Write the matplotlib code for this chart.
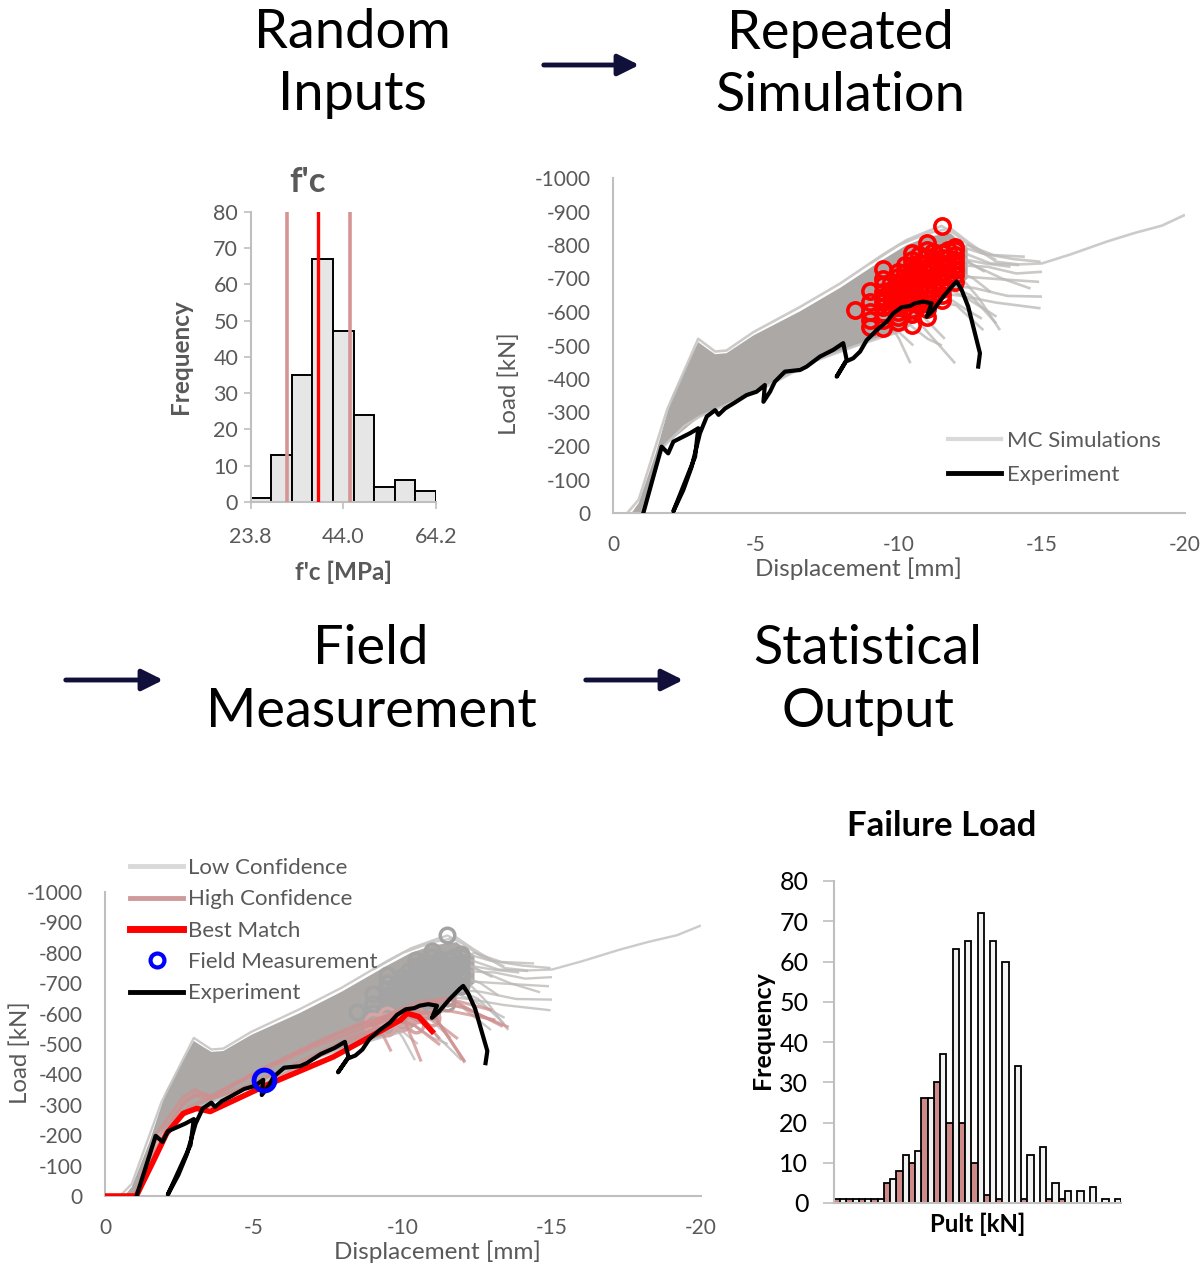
import numpy as np
import matplotlib.pyplot as plt
from matplotlib.lines import Line2D
from matplotlib.patches import FancyArrowPatch

plt.rcParams['font.family'] = ['Lato', 'DejaVu Sans']
plt.rcParams['axes.unicode_minus'] = False

W, H = 1203, 1266
TXT = '#595959'
SPINE = '#bfbfbf'
NAVY = '#10103a'

# --- f'c sampling histogram ---
fc_lo, fc_hi = 23.8, 64.2
fc_counts = [1, 13, 35, 67, 47, 24, 4, 6, 3]
fc_ticks = [23.8, 44.0, 64.2]
fc_mean = 38.55
fc_band = [31.7, 45.4]

# --- failure load histogram (all runs / high confidence runs) ---
pult_all = [1, 1, 1, 1, 6, 12, 13, 26, 37, 63, 65, 72, 65, 60, 34, 12, 14, 5, 3, 3, 4, 1, 1]
pult_high = [1, 1, 1, 1, 5, 8, 10, 26, 30, 20, 20, 10, 2, 1, 0, 1, 0, 1, 1, 0, 0, 0, 0]

# --- load-displacement data, magnitudes (compression plotted negative) ---
# dense body of the Monte Carlo runs
band_d = [0.0, 0.65, 0.9, 1.5, 2.07, 2.98, 3.3, 3.57, 3.97, 4.91, 6.54, 7.94, 9.45, 10.27, 11.03, 11.8, 12.4,
          12.4, 11.6, 10.8, 10.2, 9.45, 8.4, 7.0, 5.14, 3.04, 1.76, 1.06, 0.0]
band_p = [0, 0, 30, 180, 350, 510, 490, 474, 477, 530, 602, 672, 757, 800, 825, 835, 790,
          700, 640, 590, 545, 526, 496, 452, 367, 288, 198, 0, 0]

# individual runs: upper edge, long run, lower edge and post-peak tails
mc_disp = [
    [0.5, 0.9, 1.9, 2.98, 3.57, 3.97, 4.91, 6.54, 7.94, 9.45, 10.27, 11.03, 11.49, 12.0, 12.6, 13.4],
    [9.0, 10.0, 11.0, 11.8, 12.4, 13.4, 14.2, 15.0, 16.0, 17.26, 18.2, 19.2, 20.0],
    [1.0, 1.76, 2.5, 3.04, 5.14, 7.0, 8.4, 9.45, 10.0, 10.5],
    [11.0, 12.0, 12.9, 14.0, 14.95],
    [11.0, 12.0, 13.1, 14.1, 15.0],
    [10.5, 11.5, 12.4, 13.5, 14.9],
    [10.5, 11.5, 12.6, 13.8, 15.0],
    [10.0, 11.0, 12.2, 13.4, 14.95],
    [10.0, 11.0, 12.0, 12.95],
    [10.5, 11.5, 12.5, 13.4],
    [11.0, 12.0, 12.8, 13.53],
    [10.5, 11.5, 12.4, 13.41],
    [9.5, 10.2, 11.0, 11.96],
    [8.9, 9.6, 10.0, 10.4],
    [10.0, 11.0, 11.8, 12.6, 13.2],
    [11.5, 12.3, 13.2, 14.2],
    [9.8, 10.4, 11.0, 11.5],
    [9.3, 10.3, 11.3, 12.2, 13.0],
    [11.5, 12.4, 13.3, 14.4],
    [9.0, 9.9, 10.8, 11.6],
    [10.9, 11.8, 12.6, 13.6, 14.6],
    [9.6, 10.6, 11.4, 12.3, 12.9],
    [11.2, 12.1, 13.0, 13.9],
]
mc_load = [
    [0, 40, 310, 520, 482, 485, 540, 615, 685, 772, 815, 842, 857, 830, 790, 755],
    [745, 800, 835, 850, 810, 750, 742, 745, 772, 810, 835, 858, 890],
    [0, 198, 260, 288, 367, 452, 496, 526, 540, 500],
    [780, 800, 775, 758, 750],
    [700, 740, 735, 715, 720],
    [680, 720, 705, 698, 690],
    [640, 680, 672, 648, 646],
    [620, 660, 648, 628, 611],
    [600, 640, 620, 546],
    [650, 690, 650, 566],
    [690, 720, 640, 546],
    [650, 680, 640, 586],
    [600, 620, 540, 447],
    [530, 575, 520, 447],
    [640, 700, 730, 700, 660],
    [780, 775, 745, 740],
    [600, 560, 520, 500],
    [700, 740, 770, 760, 720],
    [760, 800, 770, 765],
    [560, 600, 590, 520],
    [740, 780, 740, 700, 670],
    [610, 650, 660, 610, 580],
    [720, 760, 745, 735],
]

# runs that agree with the field measurement
hc_disp = [
    [1.0, 1.7, 2.63, 3.03, 3.53, 5.43, 7.26, 8.57, 9.36, 10.0, 11.0, 12.05],
    [1.0, 1.7, 2.6, 3.0, 3.5, 5.0, 7.0, 8.5, 9.5, 10.2, 10.6, 11.2],
    [1.1, 1.9, 2.7, 3.1, 4.0, 6.0, 8.0, 9.5, 10.5, 11.5, 13.05],
    [1.1, 1.8, 2.8, 3.2, 4.5, 6.5, 8.2, 9.2, 9.58],
    [1.0, 1.75, 2.7, 3.05, 3.6, 5.2, 7.5, 8.9, 9.9, 10.8],
    [9.0, 10.0, 11.0, 12.0, 13.5],
    [9.5, 10.0, 10.59],
    [10.0, 11.0, 12.04],
    [10.5, 11.5, 12.94],
    [9.0, 10.0, 11.0, 11.8],
    [9.5, 10.5, 11.5, 12.5, 13.3],
    [8.8, 9.6, 10.4, 11.2],
]
hc_load = [
    [0, 200, 327, 349, 327, 425, 514, 568, 590, 620, 600, 443],
    [0, 150, 300, 330, 320, 400, 490, 545, 585, 610, 590, 520],
    [0, 190, 280, 290, 300, 400, 500, 560, 600, 610, 580],
    [0, 170, 290, 310, 350, 440, 520, 555, 480],
    [0, 185, 315, 335, 330, 415, 520, 572, 610, 560],
    [560, 610, 640, 620, 557],
    [580, 590, 447],
    [600, 600, 447],
    [620, 650, 612],
    [560, 600, 580, 520],
    [590, 640, 650, 600, 560],
    [560, 590, 560, 500],
]

best_d = [0, 1.05, 1.6, 2.07, 2.63, 3.08, 3.53, 5.43, 7.67, 9.92, 10.14, 10.53, 11.04]
best_p = [0, 0, 110, 206, 272, 288, 278, 365, 458, 579, 601, 590, 535]

exp_d = [1.06, 1.70, 1.93, 2.11, 2.69, 2.98, 2.87, 2.11, 2.46, 2.75, 3.04, 3.28, 3.57, 3.69, 3.92,
         4.21, 4.67, 5.02, 5.31, 5.26, 5.49, 5.66, 6.01, 6.54, 6.77, 7.24, 7.70, 8.05, 8.17, 7.82,
         8.14, 8.40, 8.64, 8.87, 9.22, 9.57, 9.80, 10.09, 10.38, 10.56, 10.85, 11.14, 10.97, 11.20,
         11.55, 11.90, 12.02, 12.19, 12.42, 12.83, 12.77]
exp_p = [0, 198, 178, 213, 238, 253, 168, 5, 69, 138, 238, 288, 307, 293, 312,
         327, 352, 362, 382, 332, 362, 392, 422, 427, 437, 467, 487, 507, 457, 407,
         452, 462, 482, 516, 546, 571, 596, 614, 618, 626, 631, 626, 586, 606,
         646, 681, 691, 666, 616, 477, 437]

# peak load of each run, grouped by the displacement step at which it was reached
peak_steps = [8.46, 8.99, 9.45, 9.72, 9.98, 10.2, 10.44, 10.7, 10.97, 11.2, 11.49, 11.72, 11.96]
peak_loads = [
    [606],
    [664, 630, 601, 576, 556],
    [727, 700, 681, 660, 646, 630, 616, 596, 576, 551],
    [690, 665, 640, 615],
    [720, 705, 690, 675, 660, 646, 630, 616, 600, 586, 570],
    [740, 715, 690, 665, 640, 615],
    [775, 755, 740, 725, 710, 695, 680, 666, 650, 638, 626, 610, 595, 561],
    [770, 745, 720, 695, 670, 645, 620],
    [805, 785, 765, 745, 730, 715, 700, 685, 670, 656, 640, 626, 610, 586],
    [780, 755, 730, 705, 680, 655],
    [857, 775, 760, 745, 735, 720, 705, 686, 670, 651, 636],
    [785, 760, 735, 710],
    [795, 785, 770, 755, 740, 725, 710, 690],
]

field_d, field_p = 5.33, 380

peak_d = np.concatenate([[s] * len(v) for s, v in zip(peak_steps, peak_loads)])
peak_p = np.concatenate(peak_loads)


def neg(v):
    return -np.asarray(v, dtype=float)


fig = plt.figure(figsize=(W / 100, H / 100), dpi=100)


def axes_px(x0, y0, x1, y1):
    return fig.add_axes([x0 / W, 1 - y1 / H, (x1 - x0) / W, (y1 - y0) / H])


def ftext(x, y, s, **kw):
    fig.text(x / W, 1 - y / H, s, **kw)


def arrow(x0, x1, y):
    fig.patches.append(FancyArrowPatch(
        (x0 / W, 1 - y / H), (x1 / W, 1 - y / H), transform=fig.transFigure,
        arrowstyle='-|>', mutation_scale=32, lw=3.5, color=NAVY))


# stage captions
for x, y, s in [(352, 48, 'Random'), (352, 110, 'Inputs'),
                (840, 49, 'Repeated'), (840, 111, 'Simulation'),
                (371, 664, 'Field'), (371, 727, 'Measurement'),
                (868, 664, 'Statistical'), (868, 727, 'Output')]:
    ftext(x, y, s, ha='center', va='baseline', fontsize=39, color='black')

arrow(541, 642, 65)
arrow(63, 166, 680)
arrow(583, 686, 680)


def style_load_axes(ax):
    ax.set_xlim(0, -20)
    ax.set_ylim(0, -1000)
    ax.set_xticks([0, -5, -10, -15, -20])
    ax.set_yticks(np.arange(0, -1001, -100))
    for s in ['top', 'right']:
        ax.spines[s].set_visible(False)
    for s in ['left', 'bottom']:
        ax.spines[s].set_color(SPINE)
        ax.spines[s].set_linewidth(1.5)
    ax.tick_params(length=0, pad=16, labelsize=15, labelcolor=TXT)
    ax.patch.set_alpha(0)


def draw_mc(ax, lw=1.9):
    ax.fill(neg(band_d), neg(band_p), color='#aca8a6', lw=0, zorder=1)
    for i, (d, p) in enumerate(zip(mc_disp, mc_load)):
        edge = i < 3
        ax.plot(neg(d), neg(p), color='#c8c6c5' if edge else '#bab7b5', lw=lw,
                alpha=0.9 if edge else 0.75, zorder=2, solid_capstyle='butt')


# --- repeated simulation panel ---
ax2 = axes_px(613, 178, 1185, 513)
style_load_axes(ax2)
draw_mc(ax2)
ax2.plot(neg(peak_d), neg(peak_p), 'o', ms=11, mfc='none', mec='#ff0000', mew=2.6, zorder=3)
ax2.plot(neg(exp_d), neg(exp_p), color='black', lw=3, zorder=4, solid_joinstyle='round')
ftext(858, 569, 'Displacement [mm]', ha='center', va='center', fontsize=17.5, color=TXT)
ftext(509, 384, 'Load [kN]', ha='center', va='center', rotation=90, fontsize=17.3, color=TXT)
ax2.legend([Line2D([], [], color='#d9d9d9', lw=3), Line2D([], [], color='black', lw=3.5)],
           ['MC Simulations', 'Experiment'], loc='upper left',
           bbox_to_anchor=(948 / W, 1 - 431 / H), bbox_transform=fig.transFigure,
           frameon=False, fontsize=16, labelcolor=TXT, handlelength=2.4,
           handletextpad=0.25, labelspacing=0.62, borderpad=0, borderaxespad=0)

# --- field measurement panel ---
ax3 = axes_px(105, 892, 701, 1196)
style_load_axes(ax3)
draw_mc(ax3, lw=1.7)
hp = neg(peak_p)
high = peak_p < 600
ax3.plot(neg(peak_d)[~high], hp[~high], 'o', ms=10.5, mfc='none', mec='#a3a3a3', mew=2.5, zorder=3)
ax3.plot(neg(peak_d)[high], hp[high], 'o', ms=10.5, mfc='none', mec='#d6a5a5', mew=2.5, zorder=3)
for d, p in zip(hc_disp, hc_load):
    ax3.plot(neg(d), neg(p), color='#cf8f8f', lw=2.2, alpha=0.75, zorder=4)
ax3.plot(neg(best_d), neg(best_p), color='#ff0000', lw=4, zorder=5, solid_capstyle='butt')
ax3.plot(neg(exp_d), neg(exp_p), color='black', lw=3, zorder=6, solid_joinstyle='round')
ax3.plot([-field_d], [-field_p], 'o', ms=15, mfc='none', mec='#0000ff', mew=3.5, zorder=7)
ftext(437, 1252, 'Displacement [mm]', ha='center', va='center', fontsize=17.5, color=TXT)
ftext(20, 1053, 'Load [kN]', ha='center', va='center', rotation=90, fontsize=17.3, color=TXT)
ax3.legend([Line2D([], [], color='#d9d9d9', lw=3.5),
            Line2D([], [], color='#cf9a9a', lw=3.5),
            Line2D([], [], color='#ff0000', lw=5),
            Line2D([], [], ls='none', marker='o', ms=10, mfc='none', mec='#0000ff', mew=3),
            Line2D([], [], color='black', lw=3.5)],
           ['Low Confidence', 'High Confidence', 'Best Match', 'Field Measurement', 'Experiment'],
           loc='upper left', bbox_to_anchor=(130 / W, 1 - 858 / H), bbox_transform=fig.transFigure,
           frameon=False, fontsize=16, labelcolor=TXT, handlelength=2.4,
           handletextpad=0.2, labelspacing=0.51, borderpad=0, borderaxespad=0)

# --- f'c histogram ---
ax1 = axes_px(250.7, 211.7, 436, 502)
nb = len(fc_counts)
bw = (fc_hi - fc_lo) / nb
ax1.bar(fc_lo + bw * np.arange(nb), fc_counts, width=bw, align='edge',
        color='#e6e6e6', edgecolor='black', lw=1.4, zorder=2)
ax1.axvline(fc_mean, color='#ff0000', lw=2.4, zorder=3)
for v in fc_band:
    ax1.axvline(v, color='#d69595', lw=2.6, zorder=3)
ax1.set_xlim(fc_lo, fc_hi)
ax1.set_ylim(0, 80)
ax1.set_xticks(fc_ticks)
ax1.set_xticklabels([f'{v:.1f}' for v in fc_ticks])
ax1.set_yticks(range(0, 81, 10))
for s in ['top', 'right']:
    ax1.spines[s].set_visible(False)
for s in ['left', 'bottom']:
    ax1.spines[s].set_color(SPINE)
    ax1.spines[s].set_linewidth(1.5)
ax1.tick_params(axis='y', length=5, width=1.2, color=SPINE, pad=4, labelsize=15.5, labelcolor=TXT)
ax1.tick_params(axis='x', length=5, width=1.2, color=SPINE, pad=13, labelsize=15.5, labelcolor=TXT)
ftext(307, 182, "f'c", ha='center', va='center', fontsize=25, fontweight='bold', color=TXT)
ftext(343, 572, "f'c [MPa]", ha='center', va='center', fontsize=17.5, fontweight='bold', color=TXT)
ftext(181, 357, 'Frequency', ha='center', va='center', rotation=90, fontsize=17.5,
      fontweight='bold', color=TXT)

# --- failure load histogram ---
ax4 = axes_px(834, 881, 1121, 1203)
idx = np.arange(len(pult_all))
ax4.bar(idx - 0.25, pult_high, width=0.5, color='#cd8a89', edgecolor='black', lw=1.3, zorder=2)
ax4.bar(idx + 0.25, pult_all, width=0.5, color='#f2f2f2', edgecolor='black', lw=1.3, zorder=2)
ax4.set_xlim(-0.5, len(pult_all) - 0.5)
ax4.set_ylim(0, 80)
ax4.set_xticks([])
ax4.set_yticks(range(0, 81, 10))
for s in ['top', 'right']:
    ax4.spines[s].set_visible(False)
for s in ['left', 'bottom']:
    ax4.spines[s].set_color(SPINE)
    ax4.spines[s].set_linewidth(1.5)
ax4.tick_params(axis='y', length=8, width=1.2, color=SPINE, pad=10.5, labelsize=18, labelcolor='black')
ftext(942, 826, 'Failure Load', ha='center', va='center', fontsize=25, fontweight='bold')
ftext(978, 1224, 'Pult [kN]', ha='center', va='center', fontsize=17.3, fontweight='bold')
ftext(763, 1030, 'Frequency', ha='center', va='center', rotation=90, fontsize=18,
      fontweight='bold')

fig.savefig('out.png', dpi=100)
